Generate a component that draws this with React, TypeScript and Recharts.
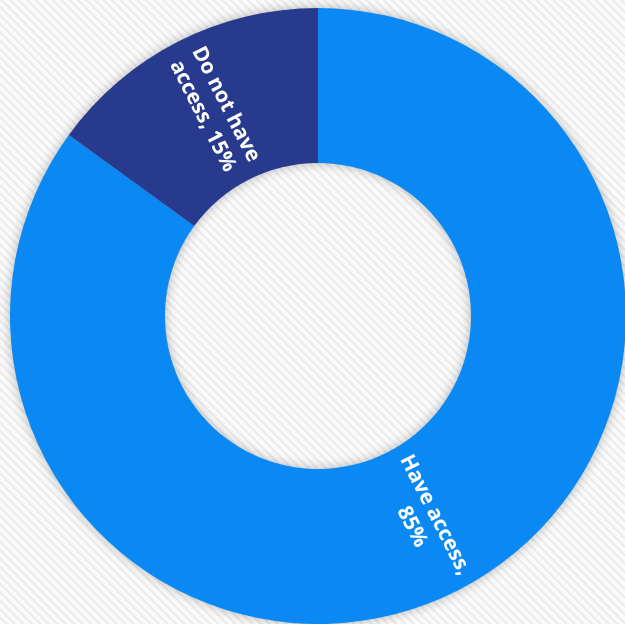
import React from 'react';
import { PieChart, Pie, Cell } from 'recharts';

const categories = ['Have access', 'Do not have access'];
const shares = [85, 15];
const labelLines = [['Have access,', '85%'], ['Do not have', 'access, 15%']];
const colors = ['#0A89F4', '#283A8E'];

const data = categories.map((name, i) => ({ name, value: shares[i] }));

const RAD = Math.PI / 180;

const renderLabel = (props: any) => {
  const { cx, cy, midAngle, innerRadius, outerRadius, index } = props;
  const r = (innerRadius + outerRadius) / 2;
  const x = cx + r * Math.cos(-midAngle * RAD);
  const y = cy + r * Math.sin(-midAngle * RAD);
  // text runs along the radius, reading downwards
  const rot = index === 0 ? -midAngle : 180 - midAngle;
  const lines = labelLines[index];
  return (
    <text
      x={x}
      y={y}
      fill="#fff"
      fontSize={21}
      fontWeight={700}
      fontFamily="'Open Sans', sans-serif"
      textAnchor="middle"
      transform={`rotate(${rot} ${x} ${y})`}
    >
      {lines.map((l, i) => (
        <tspan key={i} x={x} dy={i === 0 ? -8 : 26}>
          {l}
        </tspan>
      ))}
    </text>
  );
};

const App = () => (
  <div
    style={{
      position: 'fixed',
      left: 0,
      top: 0,
      width: 625,
      height: 624,
      background:
        'repeating-linear-gradient(45deg, #fbfbfb 0px, #fbfbfb 3px, #ebebeb 4px, #ebebeb 5px, #fbfbfb 6px)',
    }}
  >
    <PieChart
      width={625}
      height={624}
      margin={{ top: 0, right: 0, bottom: 0, left: 0 }}
      style={{ filter: 'drop-shadow(0px 0px 6px rgba(0,0,0,0.28))' }}
    >
      <Pie
        data={data}
        dataKey="value"
        cx={318}
        cy={316}
        innerRadius={153}
        outerRadius={308}
        startAngle={90}
        endAngle={-270}
        stroke="none"
        label={renderLabel}
        labelLine={false}
        isAnimationActive={false}
      >
        {data.map((d, i) => (
          <Cell key={d.name} fill={colors[i]} />
        ))}
      </Pie>
    </PieChart>
  </div>
);

export default App;
